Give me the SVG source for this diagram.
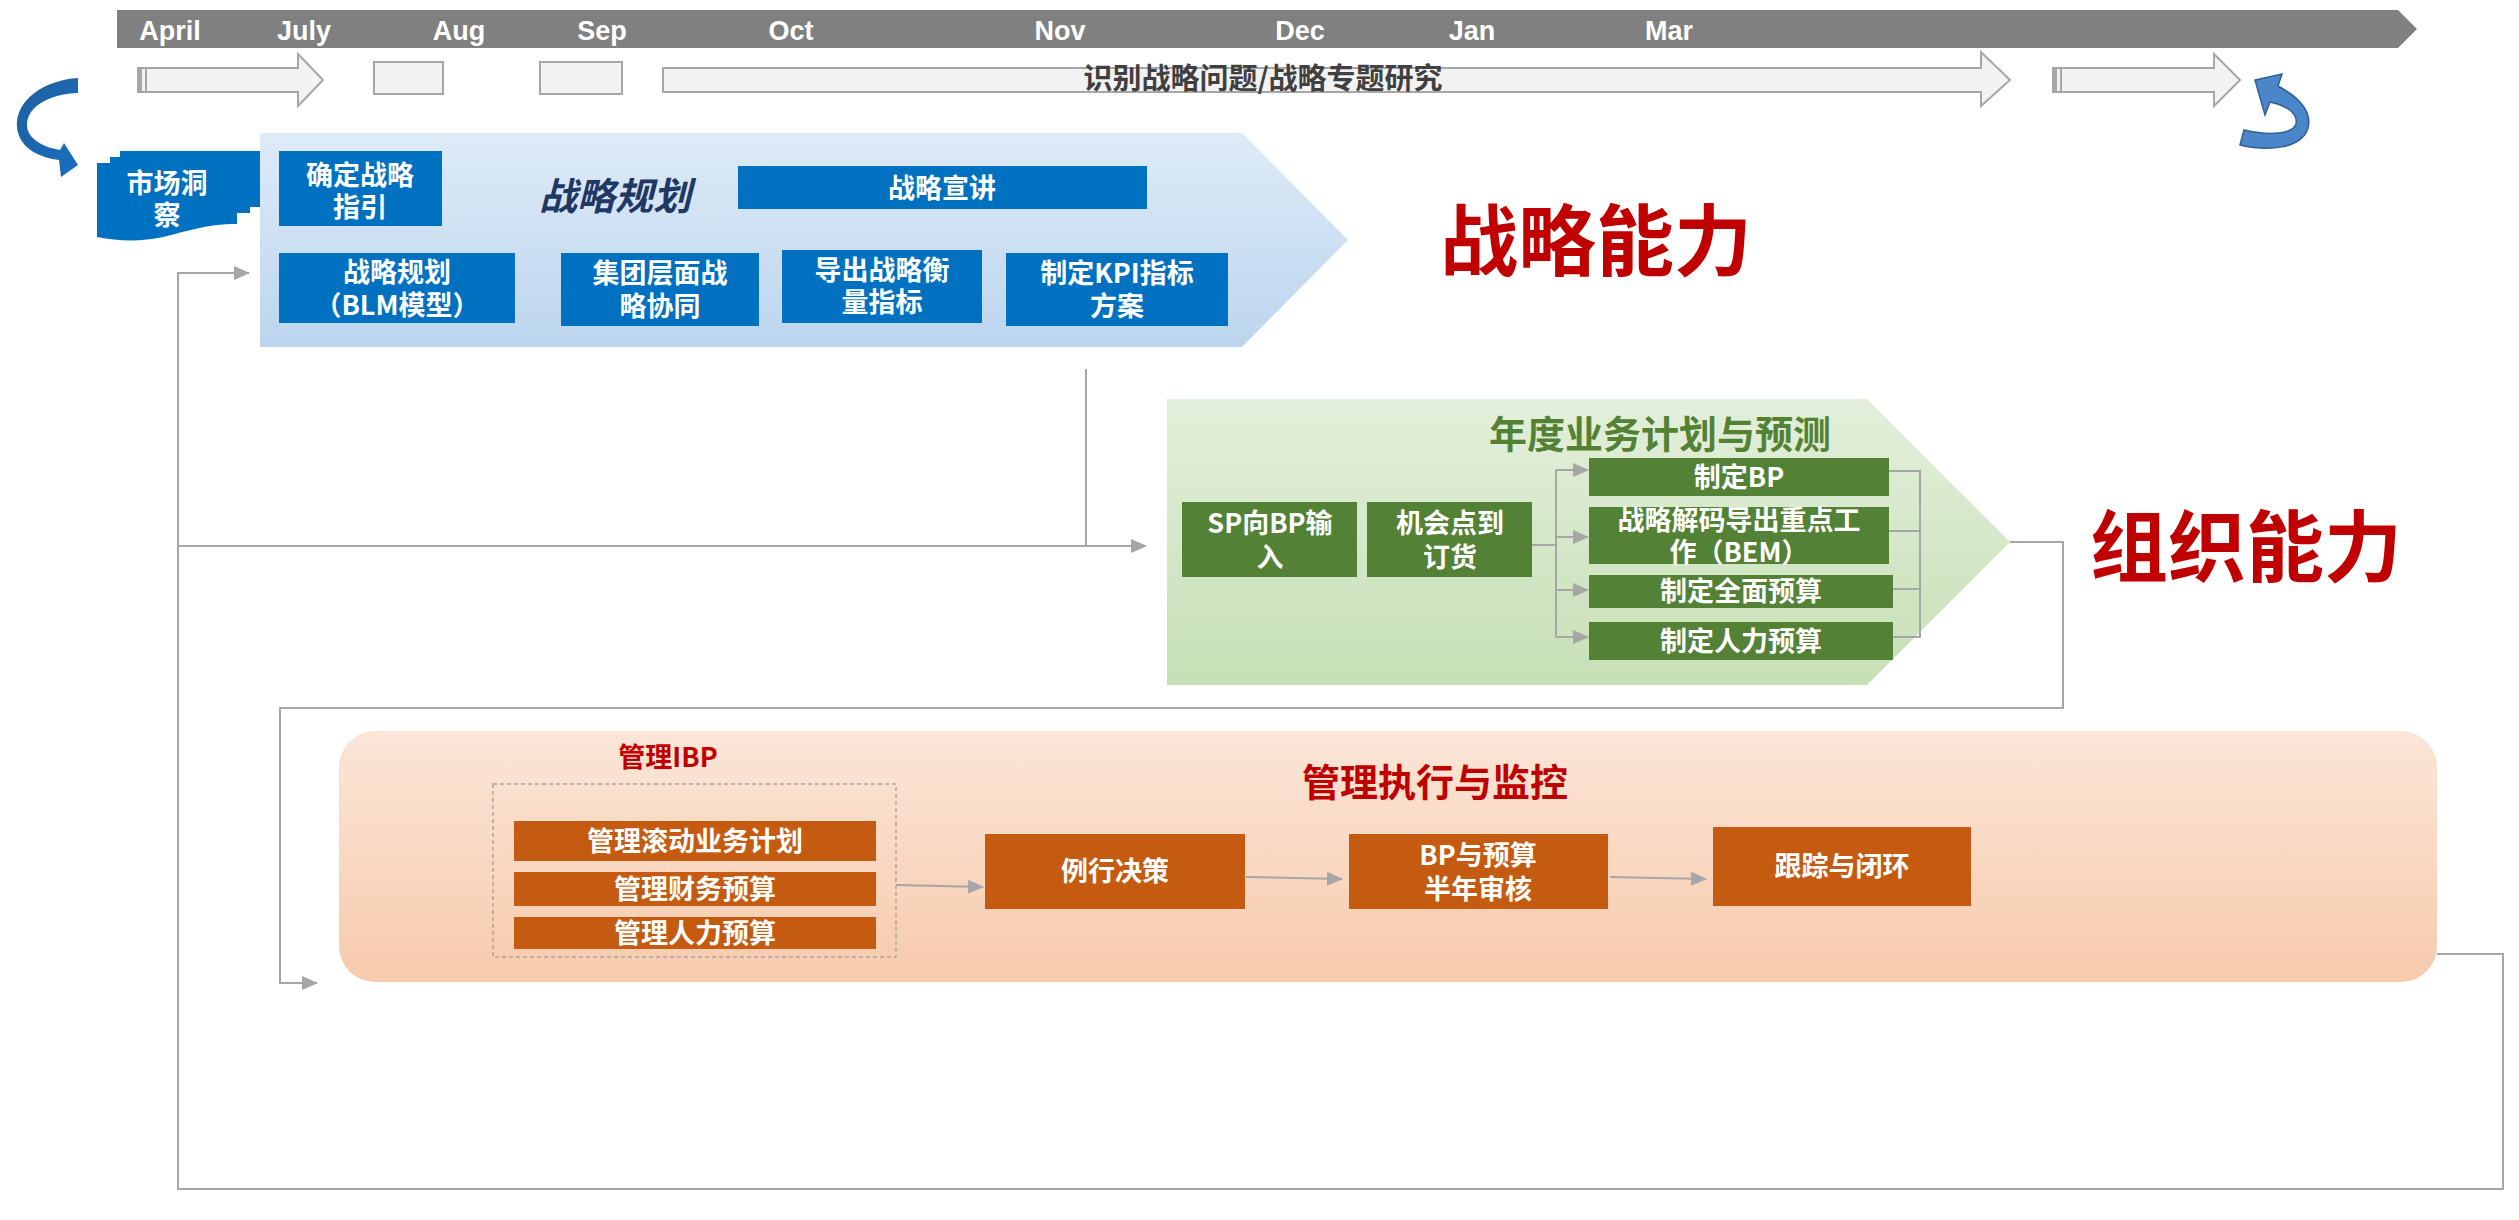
<svg xmlns="http://www.w3.org/2000/svg" width="2519" height="1220" viewBox="0 0 2519 1220">
<defs>
<linearGradient id="gBlue" x1="0" y1="0" x2="0" y2="1"><stop offset="0" stop-color="#deebf7"/><stop offset="1" stop-color="#bcd5ee"/></linearGradient>
<linearGradient id="gGreen" x1="0" y1="0" x2="0" y2="1"><stop offset="0" stop-color="#e3efdb"/><stop offset="1" stop-color="#c6e0b5"/></linearGradient>
<linearGradient id="gOrange" x1="0" y1="0" x2="0" y2="1"><stop offset="0" stop-color="#fbe6d8"/><stop offset="1" stop-color="#f7caac"/></linearGradient>
<linearGradient id="gCurlL" x1="0" y1="0" x2="1" y2="1"><stop offset="0" stop-color="#1f5f9e"/><stop offset="1" stop-color="#1a6fbf"/></linearGradient>
<marker id="ah" markerUnits="userSpaceOnUse" markerWidth="16" markerHeight="16" viewBox="0 0 16 16" refX="15" refY="8" orient="auto"><path d="M0,1 L16,8 L0,15 Z" fill="#a6a6a6"/></marker>
</defs>
<style>
.t{font-family:"Noto Sans CJK SC","Liberation Sans",sans-serif;font-weight:700;text-anchor:middle}
.w{fill:#ffffff;font-size:27px}
.mo{font-family:"Liberation Sans",Arial,sans-serif;font-weight:700;font-size:27px;fill:#ffffff;text-anchor:middle}
.blue{fill:#0070c0}
.green{fill:#538135}
.orange{fill:#c55a11}
.conn{fill:none;stroke:#a6a6a6;stroke-width:2}
.tarrow{fill:#f2f2f2;stroke:#a6a6a6;stroke-width:2}
.red{fill:#c00000}
</style>

<g id="timeline">
<polygon points="117,10 2398,10 2417,29 2398,48 117,48" fill="#808080"/>
<text class="mo" x="170" y="40">April</text>
<text class="mo" x="304" y="40">July</text>
<text class="mo" x="459" y="40">Aug</text>
<text class="mo" x="602" y="40">Sep</text>
<text class="mo" x="791" y="40">Oct</text>
<text class="mo" x="1060" y="40">Nov</text>
<text class="mo" x="1300" y="40">Dec</text>
<text class="mo" x="1472" y="40">Jan</text>
<text class="mo" x="1669" y="40">Mar</text>
</g>

<g id="phase-arrows">
<polygon class="tarrow" points="138,68 298,68 298,54 323,80 298,106 298,92 138,92"/>
<rect x="138" y="68" width="4" height="24" fill="#a6a6a6"/>
<rect x="145" y="68" width="2" height="24" fill="#a6a6a6"/>
<rect class="tarrow" x="374" y="62" width="69" height="32"/>
<rect class="tarrow" x="540" y="62" width="82" height="32"/>
<polygon class="tarrow" points="663,68 1981,68 1981,52 2010,80 1981,106 1981,92 663,92"/>
<text class="t" x="1263" y="89" style="font-size:29px;fill:#404040">识别战略问题/战略专题研究</text>
<polygon class="tarrow" points="2053,68 2214,68 2214,54 2240,80 2214,106 2214,92 2053,92"/>
<rect x="2053" y="68" width="4" height="25" fill="#a6a6a6"/>
<rect x="2060" y="68" width="2" height="25" fill="#a6a6a6"/>
</g>

<g id="curl-left">
<path d="M78,78 C45,80 14,100 17,128 C20,150 42,158 59,160 L61,177 L78,165 L64,143 L60,150 C42,147 27,138 27,125 C27,105 52,94 78,93 Z" fill="url(#gCurlL)"/>
</g>
<g id="curl-right">
<path d="M2278,86 C2300,98 2312,112 2308,128 C2302,148 2270,152 2240,145 L2244,130 C2270,136 2293,134 2296,124 C2298,114 2288,106 2270,102 L2265,115 L2255,80 L2282,74 Z" fill="#4a86c8" stroke="#2e5f9a" stroke-width="1.5"/>
</g>

<g id="connectors">
<polyline class="conn" points="2437,954 2503,954 2503,1189 178,1189 178,273 249,273" marker-end="url(#ah)"/>
<polyline class="conn" points="178,546 1146,546" marker-end="url(#ah)"/>
<polyline class="conn" points="1086,369 1086,546"/>
<polyline class="conn" points="2010,542 2063,542 2063,708 280,708 280,983 317,983" marker-end="url(#ah)"/>
</g>

<g id="strategy-panel">
<polygon points="260,133 1242,133 1348,240 1242,347 260,347" fill="url(#gBlue)"/>
<text class="t" x="615" y="210" style="font-size:38px;fill:#1f3864;font-style:italic">战略规划</text>
</g>

<g id="market-insight">
<path d="M97,163 L110,163 L110,157 L120,157 L120,151 L260,151 L260,207 L250,207 L250,213 L237,213 L237,224 C205,224 185,232 163,237 C140,242 118,241 97,237 Z" fill="#0070c0"/>
<text class="t w" x="167" y="193">市场洞</text>
<text class="t w" x="167" y="225">察</text>
</g>

<g id="n-guide"><rect class="blue" x="279" y="151" width="163" height="75"/>
<text class="t w" x="360" y="185">确定战略</text><text class="t w" x="360" y="217">指引</text></g>
<g id="n-preach"><rect class="blue" x="738" y="166" width="409" height="43"/>
<text class="t w" x="942" y="198">战略宣讲</text></g>
<g id="n-blm"><rect class="blue" x="279" y="253" width="236" height="70"/>
<text class="t w" x="397" y="282">战略规划</text><text class="t w" x="397" y="315">（BLM模型）</text></g>
<g id="n-group"><rect class="blue" x="561" y="253" width="198" height="73"/>
<text class="t w" x="660" y="283">集团层面战</text><text class="t w" x="660" y="316">略协同</text></g>
<g id="n-measure"><rect class="blue" x="782" y="250" width="200" height="73"/>
<text class="t w" x="882" y="280">导出战略衡</text><text class="t w" x="882" y="312">量指标</text></g>
<g id="n-kpi"><rect class="blue" x="1006" y="253" width="222" height="73"/>
<text class="t w" x="1117" y="283">制定KPI指标</text><text class="t w" x="1117" y="316">方案</text></g>

<text class="t red" x="1596" y="270" style="font-size:78px">战略能力</text>

<g id="bp-panel">
<polygon points="1167,399 1867,399 2010,542 1867,685 1167,685" fill="url(#gGreen)"/>
<text class="t" x="1660" y="448" style="font-size:38px;fill:#548235">年度业务计划与预测</text>
</g>

<g id="bp-connectors">
<polyline class="conn" points="1532,545 1556,545"/>
<polyline class="conn" points="1556,470 1556,637"/>
<polyline class="conn" points="1556,470 1588,470" marker-end="url(#ah)"/>
<polyline class="conn" points="1556,537 1588,537" marker-end="url(#ah)"/>
<polyline class="conn" points="1556,590 1588,590" marker-end="url(#ah)"/>
<polyline class="conn" points="1556,637 1588,637" marker-end="url(#ah)"/>
<polyline class="conn" points="1889,471 1920,471 1920,637 1893,637"/>
<polyline class="conn" points="1889,531 1920,531"/>
<polyline class="conn" points="1893,589 1920,589"/>
</g>

<g id="n-sp"><rect class="green" x="1182" y="502" width="175" height="75"/>
<text class="t w" x="1270" y="533">SP向BP输</text><text class="t w" x="1270" y="567">入</text></g>
<g id="n-opp"><rect class="green" x="1367" y="502" width="165" height="75"/>
<text class="t w" x="1450" y="533">机会点到</text><text class="t w" x="1450" y="567">订货</text></g>
<g id="n-bp"><rect class="green" x="1589" y="458" width="300" height="38"/>
<text class="t w" x="1739" y="487">制定BP</text></g>
<g id="n-bem"><rect class="green" x="1589" y="507" width="300" height="57"/>
<text class="t w" x="1739" y="530">战略解码导出重点工</text><text class="t w" x="1739" y="562">作（BEM）</text></g>
<g id="n-budget"><rect class="green" x="1589" y="575" width="304" height="33"/>
<text class="t w" x="1741" y="601">制定全面预算</text></g>
<g id="n-hr"><rect class="green" x="1589" y="622" width="304" height="38"/>
<text class="t w" x="1741" y="651">制定人力预算</text></g>

<text class="t red" x="2246" y="576" style="font-size:78px">组织能力</text>

<g id="exec-panel">
<rect x="339" y="731" width="2098" height="251" rx="36" ry="36" fill="url(#gOrange)"/>
<text class="t red" x="668" y="767" style="font-size:27px">管理IBP</text>
<text class="t red" x="1435" y="796" style="font-size:38px">管理执行与监控</text>
<rect x="493" y="784" width="403" height="173" fill="none" stroke="#a6a6a6" stroke-width="1.5" stroke-dasharray="4,3"/>
</g>

<g id="exec-connectors">
<line class="conn" x1="896" y1="885" x2="983" y2="887" marker-end="url(#ah)"/>
<line class="conn" x1="1246" y1="877" x2="1342" y2="879" marker-end="url(#ah)"/>
<line class="conn" x1="1610" y1="877" x2="1706" y2="879" marker-end="url(#ah)"/>
</g>

<g id="n-roll"><rect class="orange" x="514" y="821" width="362" height="40"/>
<text class="t w" x="695" y="851">管理滚动业务计划</text></g>
<g id="n-fin"><rect class="orange" x="514" y="872" width="362" height="34"/>
<text class="t w" x="695" y="899">管理财务预算</text></g>
<g id="n-hrm"><rect class="orange" x="514" y="917" width="362" height="32"/>
<text class="t w" x="695" y="943">管理人力预算</text></g>
<g id="n-routine"><rect class="orange" x="985" y="834" width="260" height="75"/>
<text class="t w" x="1115" y="881">例行决策</text></g>
<g id="n-review"><rect class="orange" x="1349" y="834" width="259" height="75"/>
<text class="t w" x="1478" y="865">BP与预算</text><text class="t w" x="1478" y="899">半年审核</text></g>
<g id="n-track"><rect class="orange" x="1713" y="827" width="258" height="79"/>
<text class="t w" x="1842" y="876">跟踪与闭环</text></g>
</svg>
